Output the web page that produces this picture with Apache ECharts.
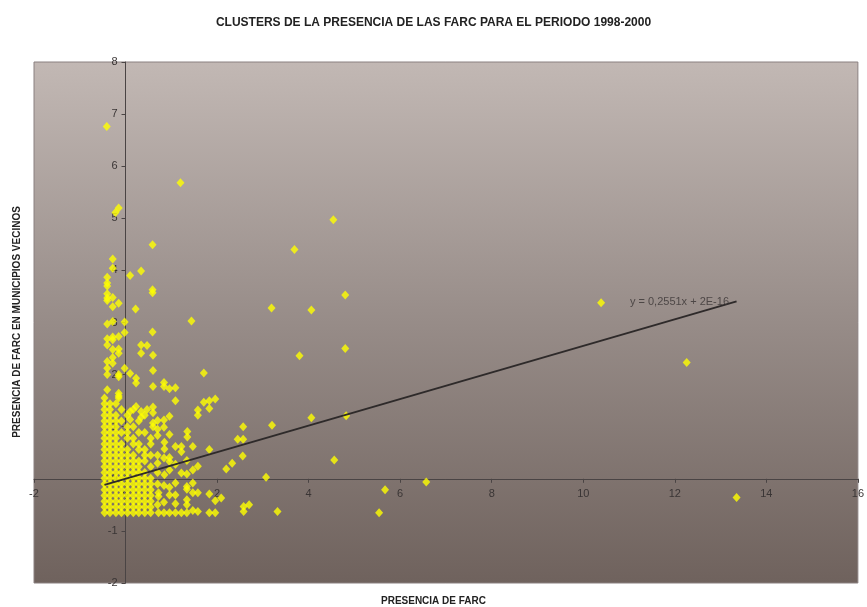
<!DOCTYPE html>
<html>
<head>
<meta charset="utf-8">
<script src="https://cdn.jsdelivr.net/npm/echarts@6/dist/echarts.min.js"></script>
<style>html,body{margin:0;padding:0;background:#fff;}#c{width:867px;height:607px;}</style>
</head>
<body>
<div id="c"></div>
<script>
var titleText = 'CLUSTERS DE LA PRESENCIA DE LAS FARC PARA EL PERIODO 1998-2000';
var xName = 'PRESENCIA DE FARC';
var yName = 'PRESENCIA DE FARC EN MUNICIPIOS VECINOS';
var xTicks = [-2, 0, 2, 4, 6, 8, 10, 12, 14, 16];
var yTicks = [-2, -1, 0, 1, 2, 3, 4, 5, 6, 7, 8];
var trendSlope = 0.2551;
var trendIntercept = 2e-16;
var trendLabel = 'y = 0,2551x + 2E-16';
var trendLabelPos = [11.02, 3.40];

var clusterPoints = [
[-0.46,-0.65],[-0.34,-0.65],[-0.21,-0.65],[-0.09,-0.65],[0.04,-0.65],[0.17,-0.65],[0.29,-0.65],[0.42,-0.65],[0.55,-0.65],
[-0.46,-0.54],[-0.34,-0.54],[-0.21,-0.54],[-0.09,-0.54],[0.04,-0.54],[0.17,-0.54],[0.29,-0.54],[0.42,-0.54],[0.55,-0.54],
[-0.46,-0.43],[-0.34,-0.43],[-0.21,-0.43],[-0.09,-0.43],[0.04,-0.43],[0.17,-0.43],[0.29,-0.43],[0.42,-0.43],
[-0.46,-0.32],[-0.34,-0.32],[-0.21,-0.32],[-0.09,-0.32],[0.04,-0.32],[0.17,-0.32],[0.29,-0.32],[0.42,-0.32],
[-0.46,-0.21],[-0.34,-0.21],[-0.21,-0.21],[-0.09,-0.21],[0.04,-0.21],[0.17,-0.21],[0.29,-0.21],[0.42,-0.21],
[-0.46,-0.10],[-0.34,-0.10],[-0.21,-0.10],[-0.09,-0.10],[0.04,-0.10],[0.17,-0.10],[0.29,-0.10],[0.55,-0.10],
[-0.46,0.01],[-0.34,0.01],[-0.21,0.01],[-0.09,0.01],[0.04,0.01],[0.17,0.01],[0.29,0.01],[0.55,0.01],
[-0.46,0.12],[-0.34,0.12],[-0.21,0.12],[-0.09,0.12],[0.04,0.12],[0.17,0.12],[0.42,0.12],
[-0.46,0.23],[-0.34,0.23],[-0.21,0.23],[-0.09,0.23],[0.04,0.23],[0.29,0.23],[0.55,0.23],
[-0.46,0.34],[-0.34,0.34],[-0.21,0.34],[-0.09,0.34],[0.04,0.34],[0.17,0.34],[0.42,0.34],
[-0.46,0.45],[-0.34,0.45],[-0.21,0.45],[-0.09,0.45],[0.17,0.45],[0.55,0.45],
[-0.46,0.56],[-0.34,0.56],[-0.21,0.56],[-0.09,0.56],[0.04,0.56],[0.42,0.56],
[-0.46,0.67],[-0.34,0.67],[-0.21,0.67],[-0.09,0.67],[0.29,0.67],
[-0.46,0.78],[-0.34,0.78],[-0.21,0.78],[0.04,0.78],[0.17,0.78],[0.55,0.78],
[-0.46,0.89],[-0.34,0.89],[-0.21,0.89],[-0.09,0.89],[0.29,0.89],[0.42,0.89],
[-0.46,1.00],[-0.34,1.00],[-0.21,1.00],[0.04,1.00],
[-0.46,1.11],[-0.34,1.11],[-0.09,1.11],[0.29,1.11],
[-0.46,1.22],[-0.34,1.22],[-0.21,1.22],[0.04,1.22],[0.42,1.22],
[-0.46,1.33],[-0.34,1.33],[0.17,1.33],[0.47,1.33],
[-0.46,1.44],[-0.21,1.44],
[-0.46,1.55],[-0.15,1.55],
[0.17,0.23],[0.29,0.12],[0.42,0.01],[0.42,-0.10],[0.29,0.34],[0.17,0.67],[0.04,0.89],[0.17,1.00],
[-0.09,1.33],[-0.34,1.44],[0.42,0.45],[0.29,0.56],[0.55,-0.21],[0.55,-0.43],[0.04,0.45],[-0.21,1.11]
];

var outlierPoints = [
[-0.41,6.76],[-0.22,5.11],[-0.15,5.20],[1.20,5.68],[0.59,4.49],[4.54,4.97],[3.69,4.40],
[-0.28,4.22],[-0.28,4.04],[0.10,3.90],[0.34,3.99],[-0.40,3.87],[-0.40,3.76],[-0.40,3.70],
[0.59,3.63],[0.59,3.57],[-0.40,3.55],[-0.40,3.47],[-0.40,3.42],[-0.28,3.48],[-0.15,3.37],[-0.28,3.30],
[0.22,3.26],[1.44,3.03],[3.19,3.28],[4.06,3.24],[4.80,3.53],[10.39,3.38],
[-0.40,2.97],[-0.28,3.02],[-0.02,3.01],[-0.02,2.81],[0.59,2.82],
[-0.40,2.69],[-0.28,2.72],[-0.28,2.67],[-0.15,2.73],
[0.34,2.57],[0.47,2.56],[0.34,2.41],
[-0.40,2.57],[-0.28,2.48],[-0.15,2.49],[-0.15,2.41],[0.60,2.37],
[-0.40,2.25],[-0.28,2.33],[-0.28,2.22],[-0.40,2.12],[-0.40,2.00],[-0.02,2.12],[-0.15,2.00],[-0.15,1.96],
[0.10,2.02],[0.23,1.93],[0.23,1.84],[0.60,2.08],
[3.80,2.36],[4.80,2.50],[1.71,2.03],[12.26,2.23],
[-0.40,1.71],[-0.15,1.64],[-0.15,1.59],[0.60,1.77],[0.84,1.85],[0.84,1.77],[0.96,1.73],[1.09,1.75],[1.09,1.50],
[1.71,1.47],[1.83,1.50],[1.96,1.53],[1.58,1.32],[1.58,1.22],[1.83,1.35],[0.60,1.38],[0.60,1.27],
[0.84,1.13],[0.96,1.20],[0.60,1.07],[0.60,1.00],[0.70,0.95],[0.70,0.83],[1.35,0.91],[1.35,0.80],
[0.10,1.29],[0.34,1.29],[0.23,1.39],[0.34,1.18],[0.10,1.14],[0.84,0.99],
[2.57,1.00],[3.20,1.03],[4.06,1.17],[4.82,1.21],[2.45,0.76],[2.57,0.76],[2.56,0.44],
[1.83,0.56],[1.22,0.62],[1.22,0.52],[0.85,0.70],[0.85,0.57],[0.96,0.41],[0.96,0.33],[1.34,0.35],
[1.58,0.24],[1.47,0.17],[2.20,0.19],[2.33,0.30],[3.07,0.03],[4.56,0.36],
[1.22,0.11],[1.34,0.09],[0.96,0.17],[0.85,0.08],[0.70,0.30],[0.70,0.12],[0.55,0.67],
[0.70,0.45],[1.09,0.28],[1.09,0.62],[0.96,0.85],[0.84,0.40],[1.47,0.62],[0.70,1.12],
[1.09,-0.08],[0.96,-0.16],[0.84,-0.13],[1.34,-0.15],[1.34,-0.20],[1.47,-0.08],[1.58,-0.27],[1.47,-0.27],
[1.83,-0.29],[1.96,-0.42],[2.09,-0.37],[1.34,-0.40],[1.34,-0.50],[1.47,-0.61],[1.58,-0.63],
[1.83,-0.65],[1.96,-0.65],[0.96,-0.31],[1.09,-0.31],[0.72,-0.27],[0.72,-0.34],[0.96,-0.65],[0.84,-0.65],
[0.72,-0.65],[2.58,-0.63],[2.58,-0.53],[2.70,-0.50],[3.32,-0.63],[0.55,-0.32],[0.70,-0.10],
[0.70,-0.50],[0.84,-0.45],[1.09,-0.48],
[6.57,-0.06],[5.67,-0.21],[5.54,-0.65],[13.35,-0.36],[1.22,-0.65],[1.34,-0.65],[1.09,-0.65]
];

var allPoints = clusterPoints.concat(outlierPoints);
var xs = allPoints.map(function(p){return p[0];});
var xMinData = Math.min.apply(null, xs);
var xMaxData = Math.max.apply(null, xs);
var trendData = [
  [xMinData, trendSlope * xMinData + trendIntercept],
  [xMaxData, trendSlope * xMaxData + trendIntercept]
];

var GRID = {left: 34, right: 8, top: 62, bottom: 24};
var W = 867, H = 607;
var chart = echarts.init(document.getElementById('c'), null, {renderer: 'canvas'});
var FONT = '"Liberation Sans", Arial, sans-serif';
chart.setOption({
  backgroundColor: '#ffffff',
  animation: false,
  title: {
    text: titleText, left: 'center', top: 12,
    textStyle: {fontFamily: FONT, fontWeight: 'bold', fontSize: 12, color: '#222'}
  },
  grid: {
    left: GRID.left, right: GRID.right, top: GRID.top, bottom: GRID.bottom, show: true,
    borderColor: '#8a8080', borderWidth: 1,
    backgroundColor: new echarts.graphic.LinearGradient(0, 0, 0, 1, [
      {offset: 0, color: '#c2b8b4'},
      {offset: 0.5, color: '#978c88'},
      {offset: 1, color: '#6f625d'}
    ])
  },
  xAxis: {
    type: 'value', min: xTicks[0], max: xTicks[xTicks.length - 1], interval: 2,
    position: 'bottom', offset: 0,
    axisLine: {onZero: false, lineStyle: {color: '#4a4444', width: 1}},
    axisTick: {show: true, length: 4, lineStyle: {color: '#4a4444'}},
    axisLabel: {fontFamily: FONT, fontSize: 11, color: '#3a3535', margin: 10},
    splitLine: {show: false}
  },
  yAxis: {
    type: 'value', min: yTicks[0], max: yTicks[yTicks.length - 1], interval: 1,
    position: 'left', offset: 0,
    axisLine: {onZero: false, lineStyle: {color: '#4a4444', width: 1}},
    axisTick: {show: true, length: 4, lineStyle: {color: '#4a4444'}},
    axisLabel: {fontFamily: FONT, fontSize: 11, color: '#3a3535', margin: 8},
    splitLine: {show: false}
  },
  graphic: [
    {type: 'text', left: 'center', top: 596,
      style: {text: xName, font: 'bold 10px ' + FONT, fill: '#222'}},
    {type: 'text', x: 17, y: 322, rotation: Math.PI / 2, originX: 0, originY: 0,
      style: {text: yName, font: 'bold 10px ' + FONT, fill: '#222', align: 'center', verticalAlign: 'middle'}, z: 10}
  ],
  series: [
    {
      type: 'scatter', data: allPoints, symbol: 'diamond', symbolSize: [8, 9],
      itemStyle: {color: '#ffff00'}, z: 3
    },
    {
      type: 'line', data: trendData, symbol: 'none', z: 4,
      lineStyle: {color: '#2e2a2a', width: 2}
    },
    {
      type: 'scatter', data: [trendLabelPos], symbolSize: 0, z: 5,
      label: {show: true, position: 'right', distance: 0, formatter: trendLabel,
        fontFamily: FONT, fontSize: 11, color: '#3a3535'}
    }
  ]
});
// move the axes onto the zero lines, using the library's own scales
var zero = chart.convertToPixel({gridIndex: 0}, [0, 0]);
chart.setOption({
  xAxis: {offset: -((H - GRID.bottom) - zero[1])},
  yAxis: {offset: -(zero[0] - GRID.left)}
});
</script>
</body>
</html>
